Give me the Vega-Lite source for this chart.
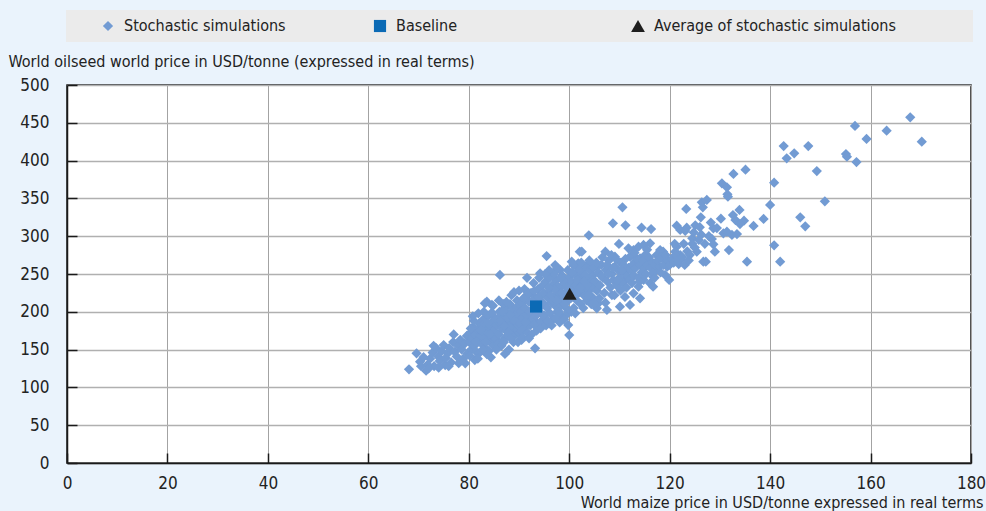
{
"$schema":"https://vega.github.io/schema/vega-lite/v6.json",
"width":904,"height":378,
"autosize":{"type":"none"},
"padding":{"left":67,"top":85,"right":15,"bottom":48},
"background":"#EAF3FC",
"config":{
 "font":"DejaVu Sans Condensed, sans-serif",
 "view":{"stroke":"#1a1a1a","strokeWidth":1.5,"fill":"white"},
 "axis":{"labelFontSize":17,"titleFontSize":16,"titleFontWeight":"normal","labelColor":"#222","titleColor":"#222","domainColor":"#1a1a1a","domainWidth":1.5,"tickColor":"#1a1a1a","tickWidth":1.5,"labelFlush":false},
 "legend":{"title":null,"orient":"none","legendX":-1,"legendY":-75,"direction":"horizontal","columns":3,"columnPadding":0,"padding":8,"symbolOffset":26,"labelOffset":8,"fillColor":"#EBEBEB","labelLimit":700,"symbolStrokeWidth":0,"labelFontSize":16,"labelColor":"#222"}
},
"datasets":{"sims":[
{"x":167.9,"y":457.3},{"x":170.2,"y":425.0},{"x":163.2,"y":439.6},{"x":156.9,"y":445.8},{"x":159.2,"y":428.6},{"x":155.1,"y":408.7},{"x":155.3,"y":405.2},{"x":157.2,"y":398.1},{"x":142.7,"y":419.3},{"x":147.6,"y":419.3},{"x":144.8,"y":409.7},{"x":143.3,"y":403.0},{"x":149.3,"y":386.2},{"x":140.8,"y":370.8},{"x":135.1,"y":388.0},{"x":132.7,"y":382.3},{"x":130.4,"y":370.0},{"x":131.4,"y":364.7},{"x":131.5,"y":355.4},{"x":131.6,"y":352.2},{"x":150.9,"y":346.2},{"x":140.0,"y":341.3},{"x":126.4,"y":344.8},{"x":127.4,"y":347.9},{"x":123.3,"y":336.0},{"x":126.6,"y":338.2},{"x":126.2,"y":325.0},{"x":130.2,"y":323.1},{"x":132.6,"y":328.0},{"x":133.9,"y":334.7},{"x":133.1,"y":321.4},{"x":134.8,"y":320.5},{"x":134.0,"y":316.1},{"x":136.7,"y":313.5},{"x":138.7,"y":322.8},{"x":146.0,"y":325.0},{"x":147.0,"y":313.1},{"x":110.6,"y":338.2},{"x":108.7,"y":317.1},{"x":111.2,"y":314.4},{"x":114.4,"y":311.2},{"x":116.3,"y":309.5},{"x":121.4,"y":313.9},{"x":123.4,"y":311.2},{"x":122.1,"y":308.2},{"x":125.1,"y":314.4},{"x":128.7,"y":310.4},{"x":129.4,"y":310.8},{"x":130.7,"y":303.8},{"x":131.4,"y":306.0},{"x":132.4,"y":301.6},{"x":133.4,"y":302.9},{"x":123.1,"y":306.9},{"x":124.5,"y":297.2},{"x":128.4,"y":296.3},{"x":128.7,"y":289.3},{"x":129.0,"y":279.5},{"x":131.8,"y":281.7},{"x":125.4,"y":279.5},{"x":140.8,"y":288.0},{"x":135.4,"y":266.3},{"x":142.0,"y":266.3},{"x":126.7,"y":266.3},{"x":127.2,"y":266.3},{"x":121.8,"y":263.2},{"x":122.1,"y":268.5},{"x":121.4,"y":286.1},{"x":121.1,"y":279.5},{"x":122.1,"y":275.1},{"x":107.2,"y":279.5},{"x":109.9,"y":289.7},{"x":109.1,"y":272.9},{"x":103.9,"y":301.2},{"x":102.1,"y":279.5},{"x":111.8,"y":284.0},{"x":112.8,"y":281.7},{"x":113.8,"y":286.1},{"x":114.8,"y":288.4},{"x":116.1,"y":290.6},{"x":112.1,"y":272.9},{"x":113.1,"y":266.3},{"x":114.1,"y":270.8},{"x":115.1,"y":275.1},{"x":115.4,"y":264.2},{"x":116.4,"y":266.3},{"x":117.4,"y":275.1},{"x":118.1,"y":281.7},{"x":118.7,"y":279.5},{"x":119.1,"y":268.5},{"x":119.5,"y":259.7},{"x":119.9,"y":242.1},{"x":119.1,"y":248.7},{"x":117.4,"y":255.3},{"x":116.7,"y":246.4},{"x":116.1,"y":237.7},{"x":114.8,"y":242.1},{"x":113.8,"y":233.2},{"x":112.8,"y":224.5},{"x":114.1,"y":217.9},{"x":112.1,"y":209.0},{"x":110.1,"y":206.7},{"x":107.5,"y":202.4},{"x":105.5,"y":204.6},{"x":108.5,"y":222.2},{"x":111.1,"y":242.1},{"x":116.7,"y":233.2},{"x":102.5,"y":279.5},{"x":95.5,"y":273.8},{"x":86.2,"y":248.7},{"x":94.2,"y":250.9},{"x":97.2,"y":261.9},{"x":98.2,"y":255.3},{"x":100.5,"y":266.3},{"x":101.8,"y":264.2},{"x":104.1,"y":264.9},{"x":105.5,"y":259.7},{"x":99.8,"y":182.5},{"x":100.0,"y":169.3},{"x":90.5,"y":162.7},{"x":93.2,"y":151.7},{"x":83.6,"y":213.4},{"x":111.1,"y":219.6},{"x":104.1,"y":213.4},{"x":105.8,"y":211.2},
{"x":68.1,"y":123.9},{"x":71.5,"y":122.1},{"x":70.3,"y":134.0},{"x":69.6,"y":145.1},{"x":75.3,"y":129.6},{"x":79.3,"y":131.9},{"x":81.2,"y":136.2},{"x":84.4,"y":139.8},{"x":87.2,"y":144.2},{"x":83.2,"y":211.2},{"x":84.6,"y":209.0},{"x":81.9,"y":198.0},
{"x":72.3,"y":138},{"x":72.8,"y":146},{"x":73.1,"y":128},{"x":73.5,"y":152},{"x":73.9,"y":141},{"x":74.2,"y":135},{"x":74.6,"y":148},{"x":75.0,"y":156},{"x":75.4,"y":139},{"x":75.8,"y":145},{"x":76.1,"y":152},{"x":76.5,"y":133},{"x":76.9,"y":160},{"x":77.2,"y":147},{"x":77.6,"y":141},{"x":77.9,"y":155},{"x":78.3,"y":163},{"x":78.6,"y":150},{"x":78.9,"y":138},{"x":79.2,"y":158},{"x":79.6,"y":168},{"x":79.8,"y":145},{"x":71.0,"y":140},{"x":71.8,"y":130},{"x":73.0,"y":155},{"x":74.0,"y":126},{"x":76.0,"y":128},{"x":77.0,"y":170},{"x":78.0,"y":132},{"x":70.5,"y":128},{"x":72.0,"y":125},
{"x":80.1,"y":160},{"x":80.3,"y":172},{"x":80.5,"y":150},{"x":80.7,"y":165},{"x":80.9,"y":180},{"x":81.1,"y":155},{"x":81.3,"y":170},{"x":81.5,"y":147},{"x":81.7,"y":176},{"x":81.9,"y":162},{"x":82.1,"y":185},{"x":82.3,"y":168},{"x":82.5,"y":158},{"x":82.7,"y":174},{"x":82.9,"y":190},{"x":83.1,"y":165},{"x":83.3,"y":152},{"x":83.5,"y":180},{"x":83.7,"y":172},{"x":83.9,"y":195},{"x":84.1,"y":161},{"x":84.3,"y":178},{"x":84.5,"y":186},{"x":84.7,"y":168},{"x":84.9,"y":155},{"x":85.0,"y":175},{"x":80.2,"y":142},{"x":81.0,"y":188},{"x":82.0,"y":145},{"x":83.0,"y":200},{"x":84.0,"y":148},{"x":85.2,"y":192},{"x":80.8,"y":194},{"x":81.8,"y":138},{"x":82.6,"y":182},{"x":83.4,"y":160},{"x":84.2,"y":170},{"x":85.4,"y":164},{"x":82.4,"y":176},{"x":83.8,"y":185},{"x":84.6,"y":199},{"x":81.4,"y":160},{"x":80.4,"y":178},{"x":85.6,"y":182},{"x":85.8,"y":158},{"x":84.8,"y":208},{"x":83.6,"y":144},{"x":82.8,"y":150},
{"x":86.0,"y":170},{"x":86.2,"y":185},{"x":86.4,"y":195},{"x":86.6,"y":178},{"x":86.8,"y":162},{"x":87.0,"y":190},{"x":87.2,"y":205},{"x":87.4,"y":175},{"x":87.6,"y":183},{"x":87.8,"y":198},{"x":88.0,"y":168},{"x":88.2,"y":210},{"x":88.4,"y":187},{"x":88.6,"y":176},{"x":88.8,"y":193},{"x":89.0,"y":202},{"x":89.2,"y":181},{"x":89.4,"y":170},{"x":89.6,"y":215},{"x":89.8,"y":189},{"x":90.0,"y":197},{"x":86.1,"y":200},{"x":86.5,"y":155},{"x":86.9,"y":210},{"x":87.3,"y":166},{"x":87.7,"y":192},{"x":88.1,"y":180},{"x":88.5,"y":222},{"x":88.9,"y":160},{"x":89.3,"y":196},{"x":89.7,"y":175},{"x":86.3,"y":188},{"x":86.7,"y":201},{"x":87.1,"y":181},{"x":87.5,"y":213},{"x":87.9,"y":173},{"x":88.3,"y":196},{"x":88.7,"y":205},{"x":89.1,"y":188},{"x":89.5,"y":206},{"x":89.9,"y":182},{"x":85.5,"y":150},{"x":87.0,"y":160},{"x":88.0,"y":150},{"x":89.0,"y":226},{"x":90.1,"y":172},{"x":90.3,"y":208},{"x":86.0,"y":215},{"x":88.4,"y":165},{"x":89.8,"y":160},
{"x":90.2,"y":185},{"x":90.4,"y":200},{"x":90.6,"y":212},{"x":90.8,"y":192},{"x":91.0,"y":178},{"x":91.2,"y":205},{"x":91.4,"y":220},{"x":91.6,"y":188},{"x":91.8,"y":198},{"x":92.0,"y":213},{"x":92.2,"y":182},{"x":92.4,"y":225},{"x":92.6,"y":202},{"x":92.8,"y":190},{"x":93.0,"y":210},{"x":93.2,"y":218},{"x":93.4,"y":195},{"x":93.6,"y":185},{"x":93.8,"y":230},{"x":94.0,"y":205},{"x":94.2,"y":215},{"x":94.4,"y":198},{"x":94.6,"y":222},{"x":94.8,"y":190},{"x":95.0,"y":210},{"x":90.5,"y":175},{"x":91.1,"y":230},{"x":91.7,"y":172},{"x":92.3,"y":195},{"x":92.9,"y":238},{"x":93.5,"y":175},{"x":94.1,"y":185},{"x":94.7,"y":235},{"x":90.9,"y":218},{"x":91.5,"y":196},{"x":92.1,"y":200},{"x":92.7,"y":215},{"x":93.3,"y":204},{"x":93.9,"y":220},{"x":94.5,"y":210},{"x":95.1,"y":195},{"x":90.7,"y":166},{"x":91.3,"y":186},{"x":91.9,"y":225},{"x":92.5,"y":170},{"x":93.1,"y":228},{"x":93.7,"y":198},{"x":94.3,"y":178},{"x":94.9,"y":225},{"x":95.3,"y":240},{"x":91.6,"y":245},{"x":92.0,"y":165},{"x":93.0,"y":183},{"x":94.0,"y":245},{"x":90.0,"y":228},{"x":95.4,"y":182},
{"x":95.6,"y":205},{"x":95.8,"y":218},{"x":96.0,"y":228},{"x":96.2,"y":198},{"x":96.4,"y":212},{"x":96.6,"y":235},{"x":96.8,"y":190},{"x":97.0,"y":220},{"x":97.2,"y":208},{"x":97.4,"y":242},{"x":97.6,"y":200},{"x":97.8,"y":225},{"x":98.0,"y":215},{"x":98.2,"y":232},{"x":98.4,"y":195},{"x":98.6,"y":248},{"x":98.8,"y":210},{"x":99.0,"y":222},{"x":99.2,"y":238},{"x":99.4,"y":205},{"x":99.6,"y":228},{"x":99.8,"y":215},{"x":100.0,"y":245},{"x":95.7,"y":188},{"x":96.1,"y":245},{"x":96.5,"y":182},{"x":96.9,"y":252},{"x":97.3,"y":192},{"x":97.7,"y":234},{"x":98.1,"y":186},{"x":98.5,"y":225},{"x":98.9,"y":240},{"x":99.3,"y":195},{"x":99.7,"y":255},{"x":96.3,"y":222},{"x":97.1,"y":230},{"x":97.9,"y":205},{"x":98.7,"y":218},{"x":99.5,"y":232},{"x":95.9,"y":232},{"x":96.7,"y":215},{"x":97.5,"y":215},{"x":98.3,"y":245},{"x":99.1,"y":210},{"x":99.9,"y":200},{"x":100.1,"y":232},{"x":97.0,"y":250},{"x":98.0,"y":200},{"x":99.0,"y":190},{"x":96.0,"y":255},{"x":97.6,"y":258},{"x":95.2,"y":250},
{"x":100.3,"y":218},{"x":100.5,"y":240},{"x":100.7,"y":228},{"x":100.9,"y":205},{"x":101.1,"y":250},{"x":101.3,"y":235},{"x":101.5,"y":215},{"x":101.7,"y":258},{"x":101.9,"y":225},{"x":102.1,"y":245},{"x":102.3,"y":210},{"x":102.5,"y":238},{"x":102.7,"y":252},{"x":102.9,"y":222},{"x":103.1,"y":232},{"x":103.3,"y":260},{"x":103.5,"y":215},{"x":103.7,"y":245},{"x":103.9,"y":228},{"x":104.1,"y":255},{"x":104.3,"y":238},{"x":104.5,"y":220},{"x":104.7,"y":248},{"x":104.9,"y":232},{"x":100.4,"y":200},{"x":100.8,"y":262},{"x":101.2,"y":198},{"x":101.6,"y":242},{"x":102.0,"y":228},{"x":102.4,"y":265},{"x":102.8,"y":205},{"x":103.2,"y":248},{"x":103.6,"y":235},{"x":104.0,"y":268},{"x":104.4,"y":210},{"x":104.8,"y":258},{"x":100.6,"y":252},{"x":101.4,"y":225},{"x":102.2,"y":232},{"x":103.0,"y":240},{"x":103.8,"y":222},{"x":104.6,"y":242},{"x":105.0,"y":212},
{"x":105.2,"y":240},{"x":105.5,"y":228},{"x":105.8,"y":252},{"x":106.1,"y":235},{"x":106.4,"y":262},{"x":106.7,"y":245},{"x":107.0,"y":225},{"x":107.3,"y":255},{"x":107.6,"y":240},{"x":107.9,"y":268},{"x":108.2,"y":232},{"x":108.5,"y":250},{"x":108.8,"y":242},{"x":109.1,"y":260},{"x":109.4,"y":235},{"x":109.7,"y":255},{"x":110.0,"y":245},{"x":110.3,"y":265},{"x":110.6,"y":238},{"x":110.9,"y":252},{"x":111.2,"y":270},{"x":111.5,"y":248},{"x":111.8,"y":258},{"x":105.4,"y":265},{"x":106.0,"y":218},{"x":106.6,"y":272},{"x":107.2,"y":212},{"x":107.8,"y":250},{"x":108.4,"y":275},{"x":109.0,"y":222},{"x":109.6,"y":242},{"x":110.2,"y":228},{"x":110.8,"y":262},{"x":111.4,"y":232},{"x":106.3,"y":248},{"x":107.5,"y":262},{"x":108.7,"y":258},{"x":109.3,"y":270},{"x":110.5,"y":255},{"x":112.0,"y":242},
{"x":112.3,"y":255},{"x":112.6,"y":262},{"x":112.9,"y":248},{"x":113.2,"y":258},{"x":113.5,"y":270},{"x":113.8,"y":245},{"x":114.1,"y":262},{"x":114.4,"y":252},{"x":114.7,"y":268},{"x":115.0,"y":258},{"x":115.3,"y":250},{"x":115.6,"y":262},{"x":115.9,"y":272},{"x":116.2,"y":258},{"x":116.5,"y":265},{"x":116.8,"y":252},{"x":117.1,"y":262},{"x":117.6,"y":268},{"x":118.0,"y":260},{"x":118.4,"y":272},{"x":118.8,"y":262},{"x":119.2,"y":275},{"x":119.6,"y":268},{"x":112.5,"y":238},{"x":113.0,"y":278},{"x":114.0,"y":240},{"x":115.5,"y":282},{"x":117.0,"y":245},{"x":118.2,"y":252},{"x":120.0,"y":262},
{"x":120.4,"y":270},{"x":120.8,"y":265},{"x":121.2,"y":275},{"x":121.6,"y":268},{"x":122.5,"y":272},{"x":123.0,"y":262},{"x":123.5,"y":280},{"x":124.0,"y":275},{"x":124.5,"y":290},{"x":125.0,"y":285},{"x":125.8,"y":295},{"x":126.3,"y":302},{"x":127.0,"y":290},{"x":127.8,"y":300},{"x":122.8,"y":290},{"x":124.8,"y":305},{"x":126.0,"y":312},{"x":128.2,"y":318},{"x":121.0,"y":290},{"x":123.8,"y":268}
],
"markers":[{"x":93.4,"y":207,"series":"Baseline"},{"x":100.1,"y":224,"series":"Average of stochastic simulations"}]},
"data":{"name":"sims"},
"encoding":{
 "x":{"field":"x","type":"quantitative","scale":{"domain":[0,180],"nice":false},"axis":{"values":[0,20,40,60,80,100,120,140,160,180],"grid":true,"gridColor":"#A3A3A3","gridWidth":1,"tickSize":-10,"labelPadding":22,"title":"World maize price in USD/tonne expressed in real terms","titleAlign":"right","titleAnchor":"end","titleX":916,"titleY":44,"titleBaseline":"alphabetic"}},
 "y":{"field":"y","type":"quantitative","scale":{"domain":[0,500],"nice":false},"axis":{"values":[0,50,100,150,200,250,300,350,400,450,500],"grid":true,"gridColor":"#B0B0B0","gridWidth":1.5,"tickSize":-10,"labelPadding":28,"title":"World oilseed world price in USD/tonne (expressed in real terms)","titleAngle":0,"titleAlign":"left","titleAnchor":"start","titleX":-59,"titleY":-19,"titleBaseline":"alphabetic"}}
},
"layer":[
 {"mark":{"type":"point","filled":true,"opacity":1,"strokeWidth":0},
  "encoding":{
   "color":{"datum":"Stochastic simulations","type":"nominal","scale":{"domain":["Stochastic simulations","Baseline","Average of stochastic simulations"],"range":["#729BD3","#0B6AB5","#1E1E1E"]},
    "legend":{"labelExpr":"(datum.label == 'Stochastic simulations' ? pad(datum.label, 35, '\u00a0') : datum.label == 'Baseline' ? pad(datum.label, 40, '\u00a0') : pad(datum.label, 48, '\u00a0')) + '\u200b'"}},
   "shape":{"datum":"Stochastic simulations","type":"nominal","scale":{"domain":["Stochastic simulations","Baseline","Average of stochastic simulations"],"range":["diamond","square","triangle-up"]}},
   "size":{"datum":"Stochastic simulations","type":"nominal","scale":{"domain":["Stochastic simulations","Baseline","Average of stochastic simulations"],"range":[105,190,120]}}
  }},
 {"data":{"name":"markers"},
  "mark":{"type":"point","filled":true,"opacity":1,"strokeWidth":0},
  "encoding":{
   "color":{"field":"series","type":"nominal"},
   "shape":{"field":"series","type":"nominal"},
   "size":{"field":"series","type":"nominal"}
  }}
]
}
